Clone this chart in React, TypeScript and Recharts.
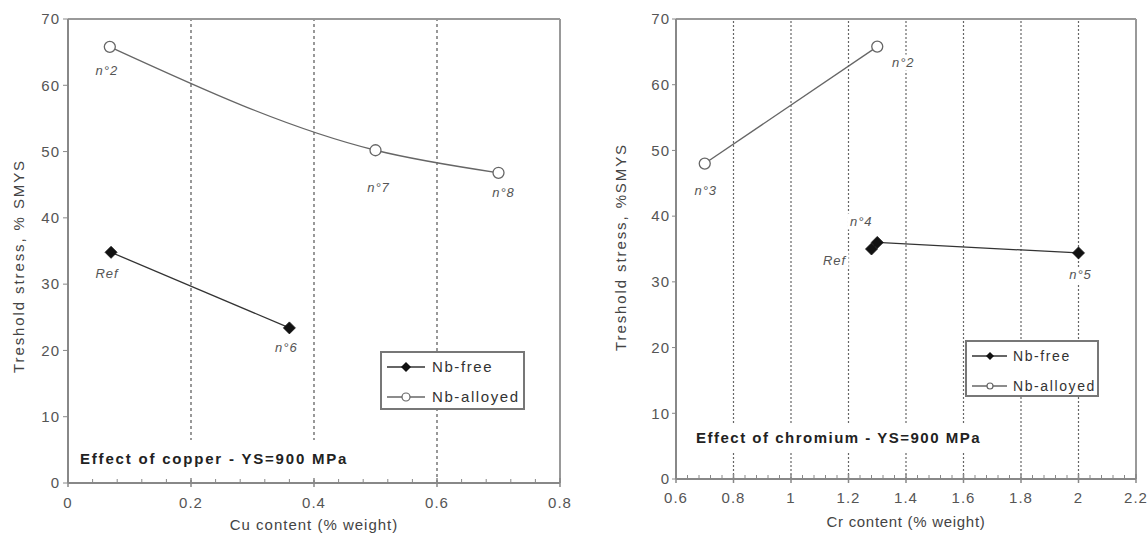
import React from 'react';
import { ComposedChart, Line, XAxis, YAxis, ReferenceLine, LabelList, Label } from 'recharts';

const FONT = '"Liberation Sans", Arial, Helvetica, sans-serif';

// ---- Effect of copper ----
const cuNbFreeX = [0.07, 0.36];
const cuNbFreeY = [34.8, 23.4];
const cuNbFreeTags = ['Ref', 'n°6'];
const cuNbAlloyedX = [0.068, 0.5, 0.7];
const cuNbAlloyedY = [65.8, 50.2, 46.8];
const cuNbAlloyedTags = ['n°2', 'n°7', 'n°8'];
const cuTicks = [0, 0.2, 0.4, 0.6, 0.8];
const cuTickLabels = ['0', '0.2', '0.4', '0.6', '0.8'];
const cuGrid = [0.2, 0.4, 0.6];

// ---- Effect of chromium ----
const crNbFreeX = [1.28, 1.3, 2.0];
const crNbFreeY = [35.0, 36.0, 34.4];
const crNbFreeTags = ['Ref', 'n°4', 'n°5'];
const crNbAlloyedX = [0.7, 1.3];
const crNbAlloyedY = [48.0, 65.8];
const crNbAlloyedTags = ['n°3', 'n°2'];
const crTicks = [0.6, 0.8, 1.0, 1.2, 1.4, 1.6, 1.8, 2.0, 2.2];
const crTickLabels = ['0.6', '0.8', '1', '1.2', '1.4', '1.6', '1.8', '2', '2.2'];
const crGrid = [0.8, 1.0, 1.2, 1.4, 1.6, 1.8, 2.0];

const yTicks = [0, 10, 20, 30, 40, 50, 60, 70];
const yTickLabels = ['0', '10', '20', '30', '40', '50', '60', '70'];
const seriesNames = ['Nb-free', 'Nb-alloyed'];

const zip = (xs: number[], ys: number[], tags: string[]) =>
  xs.map((x, i) => ({ x, y: ys[i], tag: tags[i] }));

const cuFree = zip(cuNbFreeX, cuNbFreeY, cuNbFreeTags);
const cuAlloyed = zip(cuNbAlloyedX, cuNbAlloyedY, cuNbAlloyedTags);
const crFree = zip(crNbFreeX, crNbFreeY, crNbFreeTags);
const crAlloyed = zip(crNbAlloyedX, crNbAlloyedY, crNbAlloyedTags);

const minorTicks = (start: number, end: number, step: number) => {
  const n = Math.round((end - start) / step);
  return Array.from({ length: n + 1 }, (_, i) => +(start + i * step).toFixed(3));
};

// label offsets (pixels, relative to the point) — styling only
const cuTagOffsets: Record<string, [number, number]> = {
  'n°2': [-3, 24], Ref: [-4, 21], 'n°6': [-3, 20], 'n°7': [3, 37], 'n°8': [5, 20],
};
const crTagOffsets: Record<string, [number, number]> = {
  'n°3': [1, 27], 'n°2': [26, 16], 'n°4': [-16, -21], Ref: [-37, 11], 'n°5': [2, 22],
};

const tagRenderer = (offsets: Record<string, [number, number]>) => (props: any) => {
  const { x, y, value } = props;
  if (x == null || y == null) return null;
  const o = offsets[value] || [0, 20];
  const cx = x + o[0];
  const cy = y + o[1];
  const w = String(value).length * 8 + 4;
  return (
    <g>
      <rect x={cx - w / 2} y={cy - 8} width={w} height={16} fill="#fff" />
      <text x={cx} y={cy + 4.5} textAnchor="middle" fontFamily={FONT} fontStyle="italic"
        fontSize={13} letterSpacing={1} fill="#555">{value}</text>
    </g>
  );
};

const diamondDot = (size: number) => (p: any) => {
  const { cx, cy, index } = p;
  if (cx == null || cy == null) return <g key={index} />;
  return (
    <path key={index} d={`M${cx},${cy - size}L${cx + size},${cy}L${cx},${cy + size}L${cx - size},${cy}Z`}
      fill="#111" stroke="#111" strokeWidth={0.8} />
  );
};
const circleDot = (r: number) => (p: any) => {
  const { cx, cy, index } = p;
  if (cx == null || cy == null) return <g key={index} />;
  return <circle key={index} cx={cx} cy={cy} r={r} fill="#fff" stroke="#666" strokeWidth={1.3} />;
};

const makeXTick = (majors: number[], labels: string[], labelDy: number) => (props: any) => {
  const { x, y, payload } = props;
  const v = payload.value;
  const idx = majors.findIndex((m) => Math.abs(m - v) < 1e-6);
  if (idx >= 0) {
    return (
      <g>
        <line x1={x} x2={x} y1={y - 5} y2={y + 4} stroke="#888" strokeWidth={1.5} />
        <text x={x} y={y + labelDy} textAnchor="middle" fontFamily={FONT} fontSize={15}
          letterSpacing={1} fill="#555">{labels[idx]}</text>
      </g>
    );
  }
  return <line x1={x} x2={x} y1={y - 4} y2={y} stroke="#888" strokeWidth={1} />;
};

const yTickFmt = (v: number) => {
  const i = yTicks.indexOf(v);
  return i >= 0 ? yTickLabels[i] : String(v);
};

const xTitle = (text: string, dy: number, ls: number) => (props: any) => {
  const vb = props.viewBox || {};
  return (
    <text x={vb.x + vb.width / 2} y={vb.y + dy} textAnchor="middle" fontFamily={FONT}
      fontSize={15} letterSpacing={ls} fill="#444">{text}</text>
  );
};
const yTitle = (text: string, x: number, cy: number, ls: number) => () => (
  <text transform={`translate(${x},${cy}) rotate(-90)`} textAnchor="middle" fontFamily={FONT}
    fontSize={15} letterSpacing={ls} fill="#444" dominantBaseline="middle">{text}</text>
);

function LegendBox(props: {
  left: number; top: number; width: number; height: number;
  rows: number[]; icon: [number, number]; mark: number; textX: number;
  fontSize: number; ls: number; dia: number; rad: number;
}) {
  const { left, top, width, height, rows, icon, mark, textX, fontSize, ls, dia, rad } = props;
  const b = 2;
  return (
    <div style={{
      position: 'absolute', left, top, width, height, boxSizing: 'border-box',
      border: `${b}px solid #777`, background: '#fff',
    }}>
      <svg width={width - 2 * b} height={height - 2 * b} style={{ display: 'block' }}>
        {seriesNames.map((name, i) => {
          const y = rows[i] - b;
          const mx = mark - b;
          return (
            <g key={name}>
              <line x1={icon[0] - b} x2={icon[1] - b} y1={y} y2={y} stroke={i === 0 ? '#333' : '#666'} strokeWidth={1.3} />
              {i === 0 ? (
                <path d={`M${mx},${y - dia}L${mx + dia},${y}L${mx},${y + dia}L${mx - dia},${y}Z`} fill="#111" />
              ) : (
                <circle cx={mx} cy={y} r={rad} fill="#fff" stroke="#666" strokeWidth={1.2} />
              )}
              <text x={textX - b} y={y + fontSize * 0.36} fontFamily={FONT} fontSize={fontSize}
                letterSpacing={ls} fill="#333">{name}</text>
            </g>
          );
        })}
      </svg>
    </div>
  );
}

function Annotation(props: { left: number; top: number; width: number; height: number; text: string; ls: number }) {
  const { left, top, width, height, text, ls } = props;
  return (
    <div style={{
      position: 'absolute', left, top, width, height, background: '#fff',
      fontFamily: FONT, fontWeight: 'bold', fontSize: 15, letterSpacing: ls, color: '#222',
      lineHeight: `${height}px`, whiteSpace: 'nowrap', paddingLeft: 4, boxSizing: 'border-box',
    }}>{text}</div>
  );
}

export default function App() {
  return (
    <div style={{ position: 'absolute', left: 0, top: 0, width: 1148, height: 535, background: '#fff', overflow: 'hidden' }}>
      {/* Copper chart */}
      <div style={{ position: 'absolute', left: 0, top: 0 }}>
        <ComposedChart width={580} height={535} margin={{ top: 19, right: 20, bottom: 22, left: 28 }}>
          {cuGrid.map((g) => (
            <ReferenceLine key={g} x={g} stroke="#555" strokeWidth={1.2} strokeDasharray="3 3" />
          ))}
          <ReferenceLine y={70} stroke="#999" strokeWidth={2} />
          <ReferenceLine x={0.8} stroke="#999" strokeWidth={2} />
          <XAxis dataKey="x" type="number" domain={[0, 0.8]} ticks={minorTicks(0, 0.8, 0.04)} interval={0}
            height={30} tickSize={0} tickMargin={0} tickLine={false}
            axisLine={{ stroke: '#888', strokeWidth: 2 }} tick={makeXTick(cuTicks, cuTickLabels, 25)}>
            <Label content={xTitle('Cu content (% weight)', 47, 1)} />
          </XAxis>
          <YAxis type="number" domain={[0, 70]} ticks={yTicks} interval={0} width={40}
            tickSize={5} tickMargin={3} tickFormatter={yTickFmt}
            tick={{ fill: '#555', fontSize: 15, fontFamily: FONT, letterSpacing: 1 }}
            tickLine={{ stroke: '#888' }} axisLine={{ stroke: '#888', strokeWidth: 2 }}>
            <Label content={yTitle('Treshold stress, % SMYS', 20, 266, 1.9)} />
          </YAxis>
          <Line data={cuFree} dataKey="y" name={seriesNames[0]} type="linear" stroke="#333" strokeWidth={1.3}
            dot={diamondDot(6)} activeDot={false} isAnimationActive={false}>
            <LabelList dataKey="tag" content={tagRenderer(cuTagOffsets)} />
          </Line>
          <Line data={cuAlloyed} dataKey="y" name={seriesNames[1]} type="monotone" stroke="#666" strokeWidth={1.3}
            dot={circleDot(5.5)} activeDot={false} isAnimationActive={false}>
            <LabelList dataKey="tag" content={tagRenderer(cuTagOffsets)} />
          </Line>
        </ComposedChart>
      </div>
      <Annotation left={76} top={440} width={276} height={38} text="Effect of copper - YS=900 MPa" ls={1.8} />
      <LegendBox left={380} top={351} width={145} height={59} rows={[16, 46]} icon={[7, 45]} mark={26}
        textX={52} fontSize={15} ls={1.6} dia={5} rad={4} />

      {/* Chromium chart */}
      <div style={{ position: 'absolute', left: 580, top: 0 }}>
        <ComposedChart width={568} height={535} margin={{ top: 19, right: 12, bottom: 26, left: 56 }}>
          {crGrid.map((g) => (
            <ReferenceLine key={g} x={g} stroke="#666" strokeWidth={1.2} strokeDasharray="2 2" />
          ))}
          <ReferenceLine y={70} stroke="#999" strokeWidth={2} />
          <ReferenceLine x={2.2} stroke="#999" strokeWidth={2} />
          <XAxis dataKey="x" type="number" domain={[0.6, 2.2]} ticks={minorTicks(0.6, 2.2, 0.04)} interval={0}
            height={30} tickSize={0} tickMargin={0} tickLine={false}
            axisLine={{ stroke: '#888', strokeWidth: 2 }} tick={makeXTick(crTicks, crTickLabels, 24)}>
            <Label content={xTitle('Cr content (% weight)', 48, 0.7)} />
          </XAxis>
          <YAxis type="number" domain={[0, 70]} ticks={yTicks} interval={0} width={40}
            tickSize={4} tickMargin={2} tickFormatter={yTickFmt}
            tick={{ fill: '#555', fontSize: 15, fontFamily: FONT, letterSpacing: 1 }}
            tickLine={{ stroke: '#888' }} axisLine={{ stroke: '#888', strokeWidth: 2 }}>
            <Label content={yTitle('Treshold stress, %SMYS', 42, 247, 1.9)} />
          </YAxis>
          <Line data={crFree} dataKey="y" name={seriesNames[0]} type="linear" stroke="#333" strokeWidth={1.3}
            dot={diamondDot(6)} activeDot={false} isAnimationActive={false}>
            <LabelList dataKey="tag" content={tagRenderer(crTagOffsets)} />
          </Line>
          <Line data={crAlloyed} dataKey="y" name={seriesNames[1]} type="linear" stroke="#666" strokeWidth={1.3}
            dot={circleDot(5.5)} activeDot={false} isAnimationActive={false}>
            <LabelList dataKey="tag" content={tagRenderer(crTagOffsets)} />
          </Line>
        </ComposedChart>
      </div>
      <Annotation left={692} top={423} width={294} height={30} text="Effect of chromium - YS=900 MPa" ls={1.5} />
      <LegendBox left={965} top={340} width={134} height={57} rows={[16, 46]} icon={[7, 42]} mark={25}
        textX={48} fontSize={14} ls={1.6} dia={4} rad={3} />
    </div>
  );
}
